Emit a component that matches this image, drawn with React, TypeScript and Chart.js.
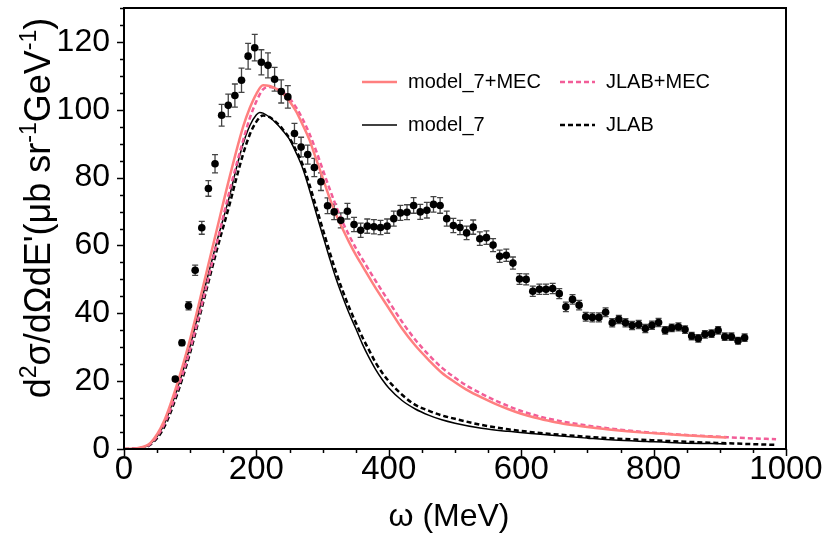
import React, { useEffect, useRef } from "react";
import { Chart, registerables } from "chart.js";
Chart.register(...registerables);

// ---- measured data (with error bars) ----
const dataOmega = [
  77.5, 87.5, 97.5, 107.5, 117.5, 127.5, 137.5, 147.5, 157.5, 167.5,
  177.5, 187.5, 197.5, 207.5, 217.5, 227.5, 237.5, 247.5, 257.5, 267.5,
  277.5, 287.5, 297.5, 307.5, 317.5, 327.5, 337.5, 347.5, 357.5, 367.5,
  377.5, 387.5, 397.5, 407.5, 417.5, 427.5, 437.5, 447.5, 457.5, 467.5,
  477.5, 487.5, 497.5, 507.5, 517.5, 527.5, 537.5, 547.5, 557.5, 567.5,
  577.5, 587.5, 597.5, 607.5, 617.5, 627.5, 637.5, 647.5, 657.5, 667.5,
  677.5, 687.5, 697.5, 707.5, 717.5, 727.5, 737.5, 747.5, 757.5, 767.5,
  777.5, 787.5, 797.5, 807.5, 817.5, 827.5, 837.5, 847.5, 857.5, 867.5,
  877.5, 887.5, 897.5, 907.5, 917.5, 927.5, 937.5,
];
const dataValue = [
  20.6, 31.3, 42.2, 52.7, 65.2, 76.8, 84.1, 98.4, 101.3, 104.2,
  108.7, 115.8, 118.3, 114.0, 113.1, 109.0, 105.4, 103.8, 93.0, 89.0,
  86.8, 83.0, 78.8, 71.7, 69.9, 67.4, 70.1, 66.2, 64.5, 65.7,
  65.5, 65.3, 65.7, 67.9, 69.6, 69.8, 71.8, 69.9, 70.4, 72.1,
  71.8, 67.9, 65.9, 65.3, 63.7, 65.4, 62.0, 62.3, 60.1, 56.8,
  57.1, 54.8, 50.1, 50.0, 46.5, 47.1, 47.1, 47.3, 45.8, 41.9,
  44.1, 42.4, 39.0, 38.8, 38.8, 40.3, 37.2, 38.2, 37.2, 36.4,
  36.7, 35.5, 36.5, 37.3, 35.0, 35.7, 36.0, 35.2, 33.3, 32.6,
  33.8, 34.0, 35.0, 33.1, 33.1, 31.9, 32.8,
];
const dataError = [
  0.6, 0.8, 1.2, 1.5, 1.9, 2.3, 2.7, 3.2, 3.3, 3.4,
  3.6, 3.8, 3.9, 3.7, 3.7, 3.5, 3.4, 3.3, 3.0, 2.9,
  2.8, 2.7, 2.6, 2.3, 2.3, 2.2, 2.3, 2.1, 2.1, 2.1,
  2.1, 2.1, 2.1, 2.2, 2.2, 2.2, 2.3, 2.2, 2.3, 2.3,
  2.3, 2.2, 2.1, 2.1, 2.0, 2.1, 2.0, 2.0, 1.9, 1.8,
  1.8, 1.8, 1.6, 1.6, 1.5, 1.5, 1.5, 1.5, 1.5, 1.4,
  1.4, 1.4, 1.3, 1.3, 1.3, 1.3, 1.2, 1.2, 1.2, 1.2,
  1.2, 1.2, 1.2, 1.2, 1.1, 1.1, 1.2, 1.1, 1.1, 1.1,
  1.1, 1.1, 1.1, 1.1, 1.1, 1.0, 1.1,
];

// ---- model curves ----
const m7mecOmega = [0, 20, 40, 60, 80, 100, 120, 140, 160, 180, 190, 200, 210, 220, 230, 240, 250, 260, 270, 280, 290, 300, 310, 320, 330, 340, 350, 360, 380, 400, 420, 440, 460, 480, 500, 520, 540, 560, 580, 600, 620, 640, 660, 680, 700, 740, 780, 820, 860, 910];
const m7mecValue = [0, 0.25, 1.8, 8.0, 19.0, 32.5, 48.3, 64.5, 80.5, 95.0, 100.5, 104.7, 107.2, 107.0, 106.2, 104.8, 102.5, 99.5, 95.5, 91.2, 85.6, 80.0, 74.3, 69.3, 65.0, 61.0, 57.3, 54.0, 47.5, 41.5, 35.5, 30.5, 26.3, 22.5, 19.7, 17.2, 15.2, 13.4, 11.8, 10.4, 9.3, 8.4, 7.6, 7.0, 6.5, 5.6, 4.9, 4.4, 3.9, 3.4];

const jlmecOmega = [0, 20, 40, 60, 80, 100, 120, 140, 160, 180, 190, 200, 210, 220, 230, 240, 250, 260, 270, 280, 290, 300, 310, 320, 330, 340, 350, 360, 380, 400, 420, 440, 460, 480, 500, 520, 540, 560, 580, 600, 620, 640, 660, 680, 700, 740, 780, 820, 860, 900, 940, 985];
const jlmecValue = [0, 0.2, 1.5, 7.0, 17.0, 29.5, 44.5, 60.5, 76.5, 91.0, 97.5, 102.5, 106.0, 106.7, 106.2, 105.2, 103.3, 100.7, 97.2, 93.0, 88.0, 82.5, 77.0, 71.8, 67.0, 63.0, 59.3, 56.0, 49.6, 43.5, 37.5, 32.2, 27.8, 24.0, 21.0, 18.4, 16.3, 14.4, 12.7, 11.2, 10.0, 9.0, 8.2, 7.5, 6.9, 5.9, 5.1, 4.5, 4.0, 3.6, 3.2, 2.9];

const m7Omega = [0, 20, 40, 60, 80, 100, 120, 140, 160, 170, 180, 190, 200, 205, 210, 220, 230, 240, 250, 260, 270, 280, 290, 300, 310, 320, 330, 340, 350, 360, 370, 380, 390, 400, 420, 440, 460, 480, 500, 540, 580, 620, 660, 700, 740, 790, 840, 910];
const m7Value = [0, 0.2, 1.5, 7.0, 17.5, 30.5, 46.0, 61.0, 75.0, 83.0, 90.0, 95.3, 98.5, 99.2, 99.0, 97.8, 96.0, 93.8, 91.3, 87.3, 82.7, 76.5, 69.7, 63.1, 56.6, 50.4, 45.0, 40.0, 35.6, 31.0, 27.0, 23.5, 20.5, 18.0, 14.3, 11.8, 10.0, 8.6, 7.6, 6.1, 5.2, 4.5, 3.8, 3.2, 2.65, 2.2, 1.8, 1.5];

const jlOmega = [0, 20, 40, 60, 80, 100, 120, 140, 160, 170, 180, 190, 200, 210, 220, 230, 240, 250, 260, 270, 280, 290, 300, 310, 320, 330, 340, 350, 360, 370, 380, 390, 400, 420, 440, 460, 480, 500, 540, 580, 620, 660, 700, 740, 790, 840, 910, 985];
const jlValue = [0, 0.15, 1.3, 6.2, 16.0, 28.5, 43.5, 58.5, 72.5, 80.0, 87.0, 92.7, 96.5, 98.3, 97.8, 96.3, 94.2, 91.6, 88.0, 83.8, 78.0, 71.5, 65.0, 58.5, 52.3, 46.8, 41.8, 37.3, 33.0, 29.2, 25.5, 22.5, 20.0, 16.0, 13.0, 11.3, 9.9, 8.9, 7.1, 5.8, 4.9, 4.2, 3.6, 3.1, 2.65, 2.2, 1.7, 1.2];

// ---- labels / ticks ----
const seriesNames = ["model_7+MEC", "JLAB+MEC", "model_7", "JLAB"];
const xTickValues = [0, 200, 400, 600, 800, 1000];
const yTickValues = [0, 20, 40, 60, 80, 100, 120];
const xTitle = "ω (MeV)";
const yTitleParts: { t: string; sup?: boolean }[] = [
  { t: "d" }, { t: "2", sup: true }, { t: "σ/dΩdE'(μb sr" }, { t: "-1", sup: true },
  { t: "GeV" }, { t: "-1", sup: true }, { t: ")" },
];

const FONT = "'Liberation Sans', Arial, Helvetica, sans-serif";
const C_M7MEC = "#ff7f7f";
const C_JLMEC = "#f25d98";

const toXY = (xs: number[], ys: number[]) => xs.map((x, i) => ({ x, y: ys[i] }));

const customPlugin = {
  id: "custom",
  beforeDatasetsDraw(chart: any) {
    const ctx = chart.ctx;
    const xs = chart.scales.x, ys = chart.scales.y;
    ctx.save();
    ctx.strokeStyle = "#444";
    ctx.lineWidth = 1.3;
    for (let i = 0; i < dataOmega.length; i++) {
      const px = xs.getPixelForValue(dataOmega[i]);
      const yTop = ys.getPixelForValue(dataValue[i] + dataError[i]);
      const yBot = ys.getPixelForValue(dataValue[i] - dataError[i]);
      ctx.beginPath();
      ctx.moveTo(px, yTop); ctx.lineTo(px, yBot);
      ctx.moveTo(px - 3, yTop); ctx.lineTo(px + 3, yTop);
      ctx.moveTo(px - 3, yBot); ctx.lineTo(px + 3, yBot);
      ctx.stroke();
    }
    ctx.restore();
  },
  afterDraw(chart: any) {
    const ctx = chart.ctx;
    const { left, right, top, bottom } = chart.chartArea;
    const xs = chart.scales.x, ys = chart.scales.y;
    ctx.save();
    // frame
    ctx.strokeStyle = "#000";
    ctx.lineWidth = 2;
    ctx.strokeRect(left, top, right - left, bottom - top);
    // ticks
    ctx.lineWidth = 1.5;
    for (let v = 0; v <= 130; v += 5) {
      const py = Math.round(ys.getPixelForValue(v)) + 0.5;
      const len = v % 20 === 0 ? 7 : 4;
      ctx.beginPath(); ctx.moveTo(left - len, py); ctx.lineTo(left, py); ctx.stroke();
    }
    for (let v = 0; v <= 1000; v += 50) {
      const px = Math.round(xs.getPixelForValue(v)) + 0.5;
      const len = v % 200 === 0 ? 7 : 4;
      ctx.beginPath(); ctx.moveTo(px, bottom); ctx.lineTo(px, bottom + len); ctx.stroke();
    }
    // x title
    ctx.fillStyle = "#000";
    ctx.font = `32px ${FONT}`;
    ctx.textAlign = "center";
    ctx.textBaseline = "alphabetic";
    ctx.fillText(xTitle, 449, 526);
    // y title (rotated, with superscripts)
    const base = 36, sup = 23;
    const widths = yTitleParts.map((p) => {
      ctx.font = `${p.sup ? sup : base}px ${FONT}`;
      return ctx.measureText(p.t).width;
    });
    const total = widths.reduce((a, b) => a + b, 0);
    ctx.translate(50, 208);
    ctx.rotate(-Math.PI / 2);
    ctx.textAlign = "left";
    let cx = -total / 2;
    yTitleParts.forEach((p, i) => {
      ctx.font = `${p.sup ? sup : base}px ${FONT}`;
      ctx.fillText(p.t, cx, p.sup ? -14 : 0);
      cx += widths[i];
    });
    ctx.restore();

    // legend
    ctx.save();
    const entries = [
      { name: seriesNames[0], color: C_M7MEC, dash: [], w: 2.5, x: 362, y: 82 },
      { name: seriesNames[1], color: C_JLMEC, dash: [5, 3], w: 2.5, x: 560, y: 82 },
      { name: seriesNames[2], color: "#000", dash: [], w: 1.5, x: 362, y: 125 },
      { name: seriesNames[3], color: "#000", dash: [5, 3], w: 2.5, x: 560, y: 125 },
    ];
    ctx.font = `20px ${FONT}`;
    ctx.textAlign = "left";
    ctx.textBaseline = "middle";
    for (const e of entries) {
      ctx.strokeStyle = e.color;
      ctx.lineWidth = e.w;
      ctx.setLineDash(e.dash);
      ctx.beginPath(); ctx.moveTo(e.x, e.y); ctx.lineTo(e.x + 35, e.y); ctx.stroke();
      ctx.setLineDash([]);
      ctx.fillStyle = "#000";
      ctx.fillText(e.name, e.x + 46, e.y);
    }
    ctx.restore();
  },
};

export default function App() {
  const ref = useRef<HTMLCanvasElement>(null);
  useEffect(() => {
    document.body.style.margin = "0";
    const canvas = ref.current!;
    const lineDs = (label: string, xs: number[], ys: number[], color: string, w: number, dash: number[], order: number) => ({
      type: "line" as const,
      label,
      data: toXY(xs, ys),
      borderColor: color,
      backgroundColor: color,
      borderWidth: w,
      borderDash: dash,
      pointRadius: 0,
      fill: false,
      cubicInterpolationMode: "monotone" as const,
      order,
    });
    const chart = new Chart(canvas, {
      type: "scatter",
      data: {
        datasets: [
          {
            type: "scatter" as const,
            label: "data",
            data: toXY(dataOmega, dataValue),
            pointRadius: 3.8,
            pointBackgroundColor: "#000",
            pointBorderWidth: 0,
            showLine: false,
            order: 0,
          } as any,
          lineDs(seriesNames[3], jlOmega, jlValue, "#000", 2.5, [5, 3], 4),
          lineDs(seriesNames[2], m7Omega, m7Value, "#000", 1.5, [], 3),
          lineDs(seriesNames[1], jlmecOmega, jlmecValue, C_JLMEC, 2.5, [5, 3], 2),
          lineDs(seriesNames[0], m7mecOmega, m7mecValue, C_M7MEC, 2.5, [], 1),
        ],
      },
      options: {
        animation: false,
        responsive: false,
        devicePixelRatio: 1,
        layout: { padding: { left: 0, right: 39, top: 8, bottom: 0 } },
        plugins: { legend: { display: false }, tooltip: { enabled: false } },
        scales: {
          x: {
            type: "linear",
            min: 0,
            max: 1000,
            grid: { display: false },
            border: { display: false },
            afterBuildTicks: (s: any) => { s.ticks = xTickValues.map((v) => ({ value: v })); },
            afterFit: (s: any) => { s.height = 87; s.paddingLeft = 0; s.paddingRight = 0; },
            ticks: {
              color: "#000", font: { family: FONT, size: 33 }, padding: -7, maxRotation: 0, autoSkip: false,
              callback: (v: any) => String(v),
            },
          },
          y: {
            type: "linear",
            min: 0,
            max: 130,
            grid: { display: false },
            border: { display: false },
            afterBuildTicks: (s: any) => { s.ticks = yTickValues.map((v) => ({ value: v })); },
            afterFit: (s: any) => { s.width = 124; s.paddingTop = 0; s.paddingBottom = 0; },
            ticks: {
              color: "#000", font: { family: FONT, size: 32 }, padding: 6, autoSkip: false,
              callback: (v: any) => String(v),
            },
          },
        },
      },
      plugins: [customPlugin],
    } as any);
    return () => chart.destroy();
  }, []);
  return (
    <div style={{ width: 825, height: 536 }}>
      <canvas ref={ref} width={825} height={536} />
    </div>
  );
}
